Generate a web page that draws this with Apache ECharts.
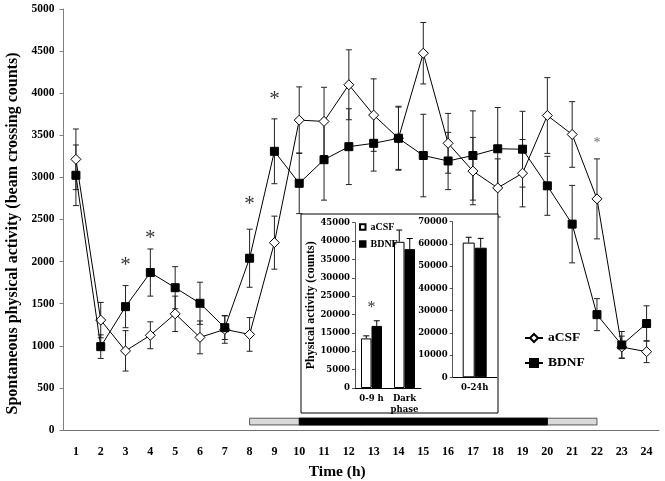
<!DOCTYPE html>
<html><head><meta charset="utf-8">
<script src="https://cdn.jsdelivr.net/npm/echarts@6/dist/echarts.min.js"></script>
<style>html,body{margin:0;padding:0;background:#fff}#c{width:665px;height:481px}</style>
</head><body><div id="c"></div>
<script>
const hours = ['1','2','3','4','5','6','7','8','9','10','11','12','13','14','15','16','17','18','19','20','21','22','23','24'];
const acsfMean = [3215, 1305, 940, 1125, 1380, 1100, 1195, 1135, 2225, 3680, 3665, 4100, 3740, 3465, 4475, 3405, 3075, 2875, 3050, 3735, 3510, 2745, 985, 930];
const acsfErr  = [360, 210, 240, 160, 210, 195, 165, 200, 315, 395, 405, 415, 430, 370, 365, 355, 400, 345, 400, 450, 390, 475, 130, 130];
const bdnfMean = [3025, 990, 1465, 1870, 1690, 1505, 1215, 2040, 3310, 2930, 3210, 3365, 3405, 3465, 3260, 3195, 3260, 3340, 3335, 2900, 2445, 1370, 1010, 1265];
const bdnfErr  = [360, 140, 250, 280, 250, 250, 140, 345, 385, 360, 480, 450, 330, 380, 490, 340, 530, 490, 450, 350, 460, 190, 160, 210];
const starHours = ['3','4','8','9'];
const starValues = [1950, 2280, 2680, 3920];
const starSmallHours = ['22'];
const starSmallValues = [3400];
const lightPhase = ['8','22'];
const darkPhase = ['10','20'];

const insetCats = ['0-9 h', 'Dark\nphase'];
const insetAcsf = [13500, 39800];
const insetAcsfErr = [700, 3200];
const insetBdnf = [16900, 37800];
const insetBdnfErr = [1400, 2900];
const insetStarCats = ['0-9 h'];
const insetStarValues = [21800];
const totalCats = ['0-24h'];
const totalAcsf = [60600];
const totalAcsfErr = [2400];
const totalBdnf = [58300];
const totalBdnfErr = [4200];

const SERIF = 'Liberation Serif';
const DSERIF = 'DejaVu Serif';
const plain = v => String(v);

function errBars(color) {
  return function (params, api) {
    const i = api.value(0), m = api.value(1), e = api.value(2);
    const hi = api.coord([i, m + e]);
    const lo = api.coord([i, m - e]);
    const w = 3;
    const st = { stroke: color, lineWidth: 1 };
    return { type: 'group', children: [
      { type: 'line', shape: { x1: hi[0], y1: hi[1], x2: lo[0], y2: lo[1] }, style: st },
      { type: 'line', shape: { x1: hi[0] - w, y1: hi[1], x2: hi[0] + w, y2: hi[1] }, style: st },
      { type: 'line', shape: { x1: lo[0] - w, y1: lo[1], x2: lo[0] + w, y2: lo[1] }, style: st }
    ]};
  };
}
function upperErr(offset, halfCap) {
  return function (params, api) {
    const i = api.value(0), m = api.value(1), e = api.value(2);
    const top = api.coord([i, m]);
    const hi = api.coord([i, m + e]);
    const x = top[0] + offset;
    const st = { stroke: '#000', lineWidth: 1 };
    return { type: 'group', children: [
      { type: 'line', shape: { x1: x, y1: top[1], x2: x, y2: hi[1] }, style: st },
      { type: 'line', shape: { x1: x - halfCap, y1: hi[1], x2: x + halfCap, y2: hi[1] }, style: st }
    ]};
  };
}

const chart = echarts.init(document.getElementById('c'));
chart.setOption({
  animation: false,
  backgroundColor: '#fff',
  grid: [
    { left: 63.5, right: 6, top: 9, bottom: 51, outerBoundsMode: 'none', containLabel: false },
    { left: 355, top: 222.7, width: 66, height: 165.3, z: 12, outerBoundsMode: 'none', containLabel: false },
    { left: 452.7, top: 221.7, width: 44, height: 155.6, z: 12, outerBoundsMode: 'none', containLabel: false }
  ],
  graphic: [
    { type: 'rect', z: 10, shape: { x: 301, y: 214, width: 197, height: 199 },
      style: { fill: '#fff', stroke: '#000', lineWidth: 1 } }
  ],
  legend: [
    { data: ['aCSF', 'BDNF'], orient: 'vertical', left: 519, top: 326, itemWidth: 18, itemHeight: 10, itemGap: 11,
      textStyle: { fontFamily: SERIF, fontWeight: 'bold', fontSize: 13.5, color: '#000' } },
    { data: [{ name: 'inset-aCSF', icon: 'rect' }, { name: 'inset-BDNF', icon: 'rect' }],
      formatter: n => n.replace('inset-', ''),
      orient: 'vertical', left: 359, top: 222, itemWidth: 5.5, itemHeight: 5.5, itemGap: 7, padding: 0, z: 20,
      textStyle: { fontFamily: SERIF, fontWeight: 'bold', fontSize: 10, color: '#000' } }
  ],
  xAxis: [
    { type: 'category', data: hours, gridIndex: 0, boundaryGap: true,
      axisLine: { lineStyle: { color: '#707070' } }, axisTick: { length: 4, lineStyle: { color: '#707070' } },
      axisLabel: { fontFamily: SERIF, fontWeight: 'bold', fontSize: 12, color: '#000', margin: 16, interval: 0 },
      name: 'Time (h)', nameLocation: 'middle', nameGap: 34,
      nameTextStyle: { fontFamily: SERIF, fontWeight: 'bold', fontSize: 15.5, color: '#000', padding: [0, 48, 0, 0] } },
    { type: 'category', data: insetCats, gridIndex: 1, z: 13,
      axisLine: { lineStyle: { color: '#000' } }, axisTick: { length: 3, lineStyle: { color: '#000' } },
      axisLabel: { fontFamily: DSERIF, fontWeight: 'bold', fontSize: 8.5, color: '#000', margin: 5, lineHeight: 11, interval: 0 } },
    { type: 'category', data: totalCats, gridIndex: 2, z: 13,
      axisLine: { lineStyle: { color: '#000' } }, axisTick: { length: 3, lineStyle: { color: '#000' } },
      axisLabel: { fontFamily: DSERIF, fontWeight: 'bold', fontSize: 8.5, color: '#000', margin: 6 } }
  ],
  yAxis: [
    { type: 'value', gridIndex: 0, min: 0, max: 5000, interval: 500,
      axisLine: { show: true, lineStyle: { color: '#808080' } }, axisTick: { show: true, length: 4, lineStyle: { color: '#808080' } },
      splitLine: { show: false },
      axisLabel: { fontFamily: SERIF, fontWeight: 'bold', fontSize: 11.5, color: '#000', margin: 9, formatter: plain },
      name: 'Spontaneous physical activity (beam crossing counts)', nameLocation: 'middle', nameGap: 42,
      nameTextStyle: { fontFamily: SERIF, fontWeight: 'bold', fontSize: 16, color: '#000', padding: [0, 28, 0, 0] } },
    { type: 'value', gridIndex: 1, min: 0, max: 45000, interval: 5000, z: 13,
      axisLine: { show: true, lineStyle: { color: '#555' } }, axisTick: { show: true, length: 3, lineStyle: { color: '#555' } },
      splitLine: { show: false },
      axisLabel: { fontFamily: DSERIF, fontWeight: 'bold', fontSize: 8.5, color: '#000', margin: 5, formatter: plain },
      name: 'Physical activity (counts)', nameLocation: 'middle', nameGap: 35,
      nameTextStyle: { fontFamily: SERIF, fontWeight: 'bold', fontSize: 12, color: '#000' } },
    { type: 'value', gridIndex: 2, min: 0, max: 70000, interval: 10000, z: 13,
      axisLine: { show: true, lineStyle: { color: '#555' } }, axisTick: { show: true, length: 3, lineStyle: { color: '#555' } },
      splitLine: { show: false },
      axisLabel: { fontFamily: DSERIF, fontWeight: 'bold', fontSize: 8.5, color: '#000', margin: 5, formatter: plain } }
  ],
  series: [
    { type: 'custom', name: 'errA', xAxisIndex: 0, yAxisIndex: 0, z: 2, renderItem: errBars('#222'),
      data: hours.map((h, i) => [i, acsfMean[i], acsfErr[i]]), silent: true },
    { type: 'custom', name: 'errB', xAxisIndex: 0, yAxisIndex: 0, z: 2, renderItem: errBars('#222'),
      data: hours.map((h, i) => [i, bdnfMean[i], bdnfErr[i]]), silent: true },
    { type: 'line', name: 'aCSF', xAxisIndex: 0, yAxisIndex: 0, z: 3, data: acsfMean,
      symbol: 'diamond', symbolSize: 10, showAllSymbol: true,
      lineStyle: { color: '#000', width: 1 }, itemStyle: { color: '#fff', borderColor: '#000', borderWidth: 1 } },
    { type: 'line', name: 'BDNF', xAxisIndex: 0, yAxisIndex: 0, z: 4, data: bdnfMean,
      symbol: 'rect', symbolSize: 8, showAllSymbol: true,
      lineStyle: { color: '#000', width: 1 }, itemStyle: { color: '#000', borderColor: '#000', borderWidth: 1 },
      markArea: { silent: true, data: [
        [{ xAxis: lightPhase[0], yAxis: 60, itemStyle: { color: '#d9d9d9', borderColor: '#555', borderWidth: 1 } }, { xAxis: lightPhase[1], yAxis: 140 }],
        [{ xAxis: darkPhase[0], yAxis: 60, itemStyle: { color: '#000', borderColor: '#000', borderWidth: 1 } }, { xAxis: darkPhase[1], yAxis: 140 }]
      ] } },
    { type: 'scatter', xAxisIndex: 0, yAxisIndex: 0, z: 5, symbolSize: 1, itemStyle: { color: 'rgba(0,0,0,0)' },
      data: starHours.map((h, i) => [h, starValues[i]]), silent: true,
      label: { show: true, position: 'inside', formatter: '*', fontFamily: SERIF, fontSize: 21, color: '#000' } },
    { type: 'scatter', xAxisIndex: 0, yAxisIndex: 0, z: 5, symbolSize: 1, itemStyle: { color: 'rgba(0,0,0,0)' },
      data: starSmallHours.map((h, i) => [h, starSmallValues[i]]), silent: true,
      label: { show: true, position: 'inside', formatter: '*', fontFamily: SERIF, fontSize: 14, color: '#444' } },
    { type: 'bar', name: 'inset-aCSF', xAxisIndex: 1, yAxisIndex: 1, z: 14, data: insetAcsf, barWidth: 10.5, barGap: '0%',
      itemStyle: { color: '#fff', borderColor: '#000', borderWidth: 1 } },
    { type: 'bar', name: 'inset-BDNF', xAxisIndex: 1, yAxisIndex: 1, z: 14, data: insetBdnf, barWidth: 10.5, barGap: '0%',
      itemStyle: { color: '#000', borderColor: '#000', borderWidth: 1 } },
    { type: 'custom', xAxisIndex: 1, yAxisIndex: 1, z: 15, renderItem: upperErr(-5.25, 3), silent: true,
      data: insetCats.map((c, i) => [i, insetAcsf[i], insetAcsfErr[i]]) },
    { type: 'custom', xAxisIndex: 1, yAxisIndex: 1, z: 15, renderItem: upperErr(5.25, 3), silent: true,
      data: insetCats.map((c, i) => [i, insetBdnf[i], insetBdnfErr[i]]) },
    { type: 'scatter', xAxisIndex: 1, yAxisIndex: 1, z: 15, symbolSize: 1, itemStyle: { color: 'rgba(0,0,0,0)' },
      data: insetStarCats.map((c, i) => [c, insetStarValues[i]]), silent: true,
      label: { show: true, position: 'inside', formatter: '*', fontFamily: SERIF, fontSize: 16, color: '#000' } },
    { type: 'bar', name: 'inset-aCSF', xAxisIndex: 2, yAxisIndex: 2, z: 14, data: totalAcsf, barWidth: 12, barGap: '0%',
      itemStyle: { color: '#fff', borderColor: '#000', borderWidth: 1 } },
    { type: 'bar', name: 'inset-BDNF', xAxisIndex: 2, yAxisIndex: 2, z: 14, data: totalBdnf, barWidth: 12, barGap: '0%',
      itemStyle: { color: '#000', borderColor: '#000', borderWidth: 1 } },
    { type: 'custom', xAxisIndex: 2, yAxisIndex: 2, z: 15, renderItem: upperErr(-6, 3), silent: true,
      data: totalCats.map((c, i) => [i, totalAcsf[i], totalAcsfErr[i]]) },
    { type: 'custom', xAxisIndex: 2, yAxisIndex: 2, z: 15, renderItem: upperErr(6, 3), silent: true,
      data: totalCats.map((c, i) => [i, totalBdnf[i], totalBdnfErr[i]]) }
  ]
});
</script></body></html>
